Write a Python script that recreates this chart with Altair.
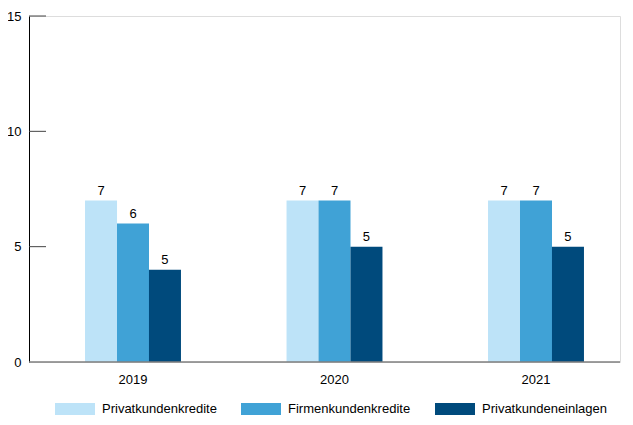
import altair as alt
import pandas as pd

years = ["2019", "2020", "2021"]
series = ["Privatkundenkredite", "Firmenkundenkredite", "Privatkundeneinlagen"]
privat_kredite = [7, 7, 7]
firmen_kredite = [6, 7, 7]
privat_einlagen = [4, 5, 5]
label_privat_kredite = ["7", "7", "7"]
label_firmen_kredite = ["6", "7", "7"]
label_privat_einlagen = ["5", "5", "5"]
y_ticks = [0, 5, 10, 15]
colors = ["#bde3f8", "#40a2d6", "#004a7c"]

rows = []
for vals, labs, s in [(privat_kredite, label_privat_kredite, series[0]),
                      (firmen_kredite, label_firmen_kredite, series[1]),
                      (privat_einlagen, label_privat_einlagen, series[2])]:
    for y, v, l in zip(years, vals, labs):
        rows.append({"Jahr": y, "Serie": s, "Wert": v, "Label": l})
df = pd.DataFrame(rows)
ticks_df = pd.DataFrame({"t": y_ticks})

FONT = "Liberation Sans"
FS = 13
W, H = 591, 346

x = alt.X("Jahr:N", sort=years,
          scale=alt.Scale(range=[3.25, 607.75], paddingInner=0.524, paddingOuter=0.262),
          axis=alt.Axis(title=None, labelAngle=0, domain=False, ticks=False,
                        labelPadding=11, labelFontSize=FS, labelFont=FONT,
                        labelColor="#000000"))
y = alt.Y("Wert:Q", scale=alt.Scale(domain=[0, 15], nice=False),
          axis=alt.Axis(title=None, values=y_ticks, grid=False, tickSize=0,
                        labelPadding=8, labelFontSize=FS, labelFont=FONT,
                        labelColor="#000000", domainColor="#000000",
                        domainWidth=1))
xoff = alt.XOffset("Serie:N", sort=series,
                   scale=alt.Scale(paddingInner=0, paddingOuter=0))
color = alt.Color("Serie:N", sort=series,
                  scale=alt.Scale(domain=series, range=colors),
                  legend=alt.Legend(title=None, orient="none", direction="horizontal",
                                    legendX=26, legendY=373, padding=0,
                                    symbolType="M-1,-0.3H1V0.3H-1Z",
                                    symbolSize=1600, symbolStrokeWidth=0,
                                    labelOffset=7, columnPadding=24,
                                    labelFontSize=FS, labelFont=FONT,
                                    labelColor="#000000"))

bars = alt.Chart(df).mark_bar(size=32).encode(x=x, y=y, xOffset=xoff, color=color)
labels = alt.Chart(df).mark_text(baseline="alphabetic", dy=-6, fontSize=FS,
                                 font=FONT, color="#000000").encode(
    x=alt.X("Jahr:N", sort=years), xOffset=alt.XOffset("Serie:N", sort=series),
    y="Wert:Q", text="Label:N")

baseline = alt.Chart(ticks_df).transform_filter("datum.t == 0").mark_rule(
    color="#7f7f7f", strokeWidth=1.5).encode(
    x=alt.value(0), x2=alt.value(W), y=alt.Y("t:Q"))
tick_rules = alt.Chart(ticks_df).transform_filter("datum.t > 0").mark_rule(
    color="#444444", strokeWidth=1).encode(
    x=alt.value(0), x2=alt.value(17), y=alt.Y("t:Q"))

chart = alt.layer(bars, labels, baseline, tick_rules).properties(
    width=W, height=H,
    autosize=alt.AutoSizeParams(type="none"),
    padding={"left": 21, "top": 8, "right": 5, "bottom": 55},
).configure_view(stroke=None).configure(font=FONT)

chart.save("out.html", embed_options={"renderer": "svg", "actions": False})
